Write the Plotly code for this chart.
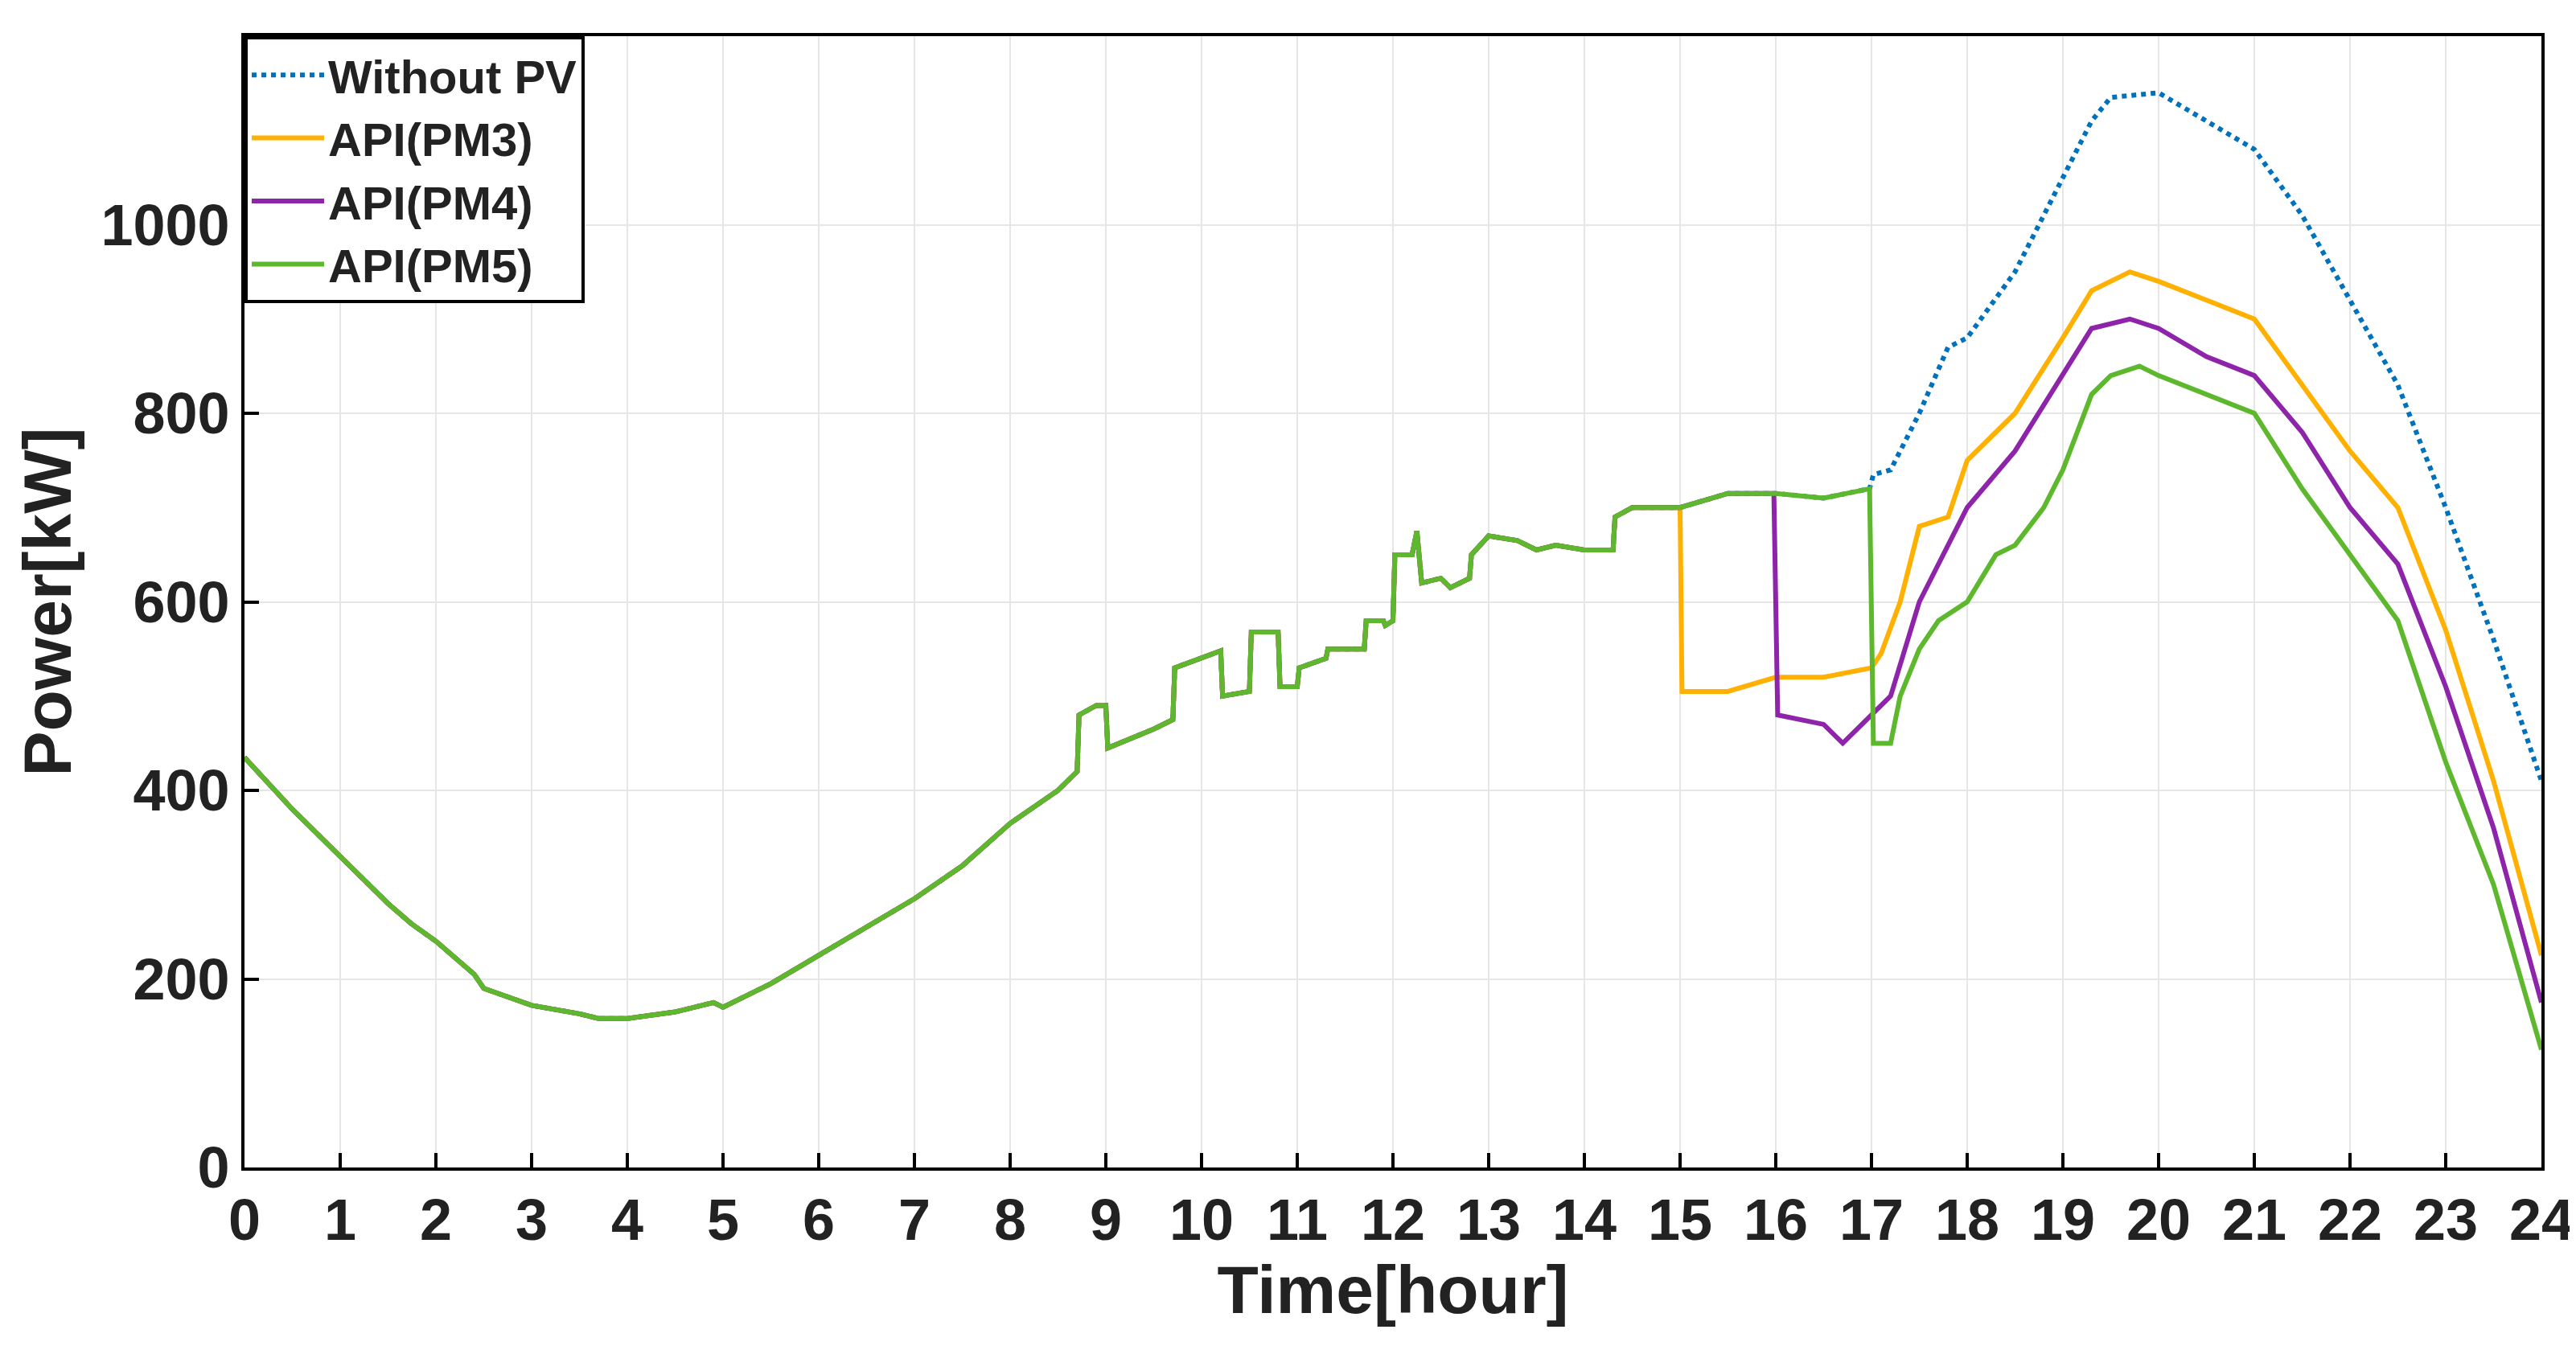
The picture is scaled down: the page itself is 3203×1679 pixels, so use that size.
import plotly.graph_objects as go

# Common part (all series identical before 15 h)
t_common = [0,0.5,1,1.5,1.75,2,2.4,2.5,3,3.5,3.7,4,4.5,4.9,5,5.5,6,6.5,7,7.5,8,8.5,8.7,8.72,8.9,9,9.02,9.5,9.7,9.72,10,10.2,10.22,10.5,10.52,10.8,10.82,11,11.02,11.3,11.32,11.7,11.72,11.9,11.92,12,12.02,12.2,12.25,12.3,12.5,12.6,12.8,12.82,13,13.3,13.5,13.7,14,14.3,14.32,14.5,15]
p_common = [435,380,330,280,258,240,205,190,172,163,158,158,165,175,170,195,225,255,285,320,365,400,420,480,490,490,445,465,475,530,540,548,500,505,568,568,510,510,530,540,550,550,580,580,575,580,650,650,675,620,625,615,625,650,670,665,655,660,655,655,690,700,700]

t_pm5_tail = [15.5,16,16.5,16.98,17.02,17.2,17.3,17.5,17.7,18,18.3,18.5,18.8,19,19.3,19.5,19.8,20,20.5,21,21.5,22,22.5,23,23.5,24]
p_pm5_tail = [715,715,710,720,450,450,500,550,580,600,650,660,700,740,820,840,850,840,820,800,720,650,580,430,300,125]

t_nopv_tail = [15.5,16,16.5,16.98,17.02,17.2,17.5,17.8,18,18.5,19,19.3,19.5,20,20.5,21,21.5,22,22.5,23,23.5,24]
p_nopv_tail = [715,715,710,720,735,740,800,870,880,950,1050,1110,1135,1140,1110,1080,1010,920,830,700,560,410]

t_pm3_tail = [15.02,15.5,16,16.5,17,17.1,17.3,17.5,17.8,18,18.5,19,19.3,19.7,20,20.5,21,21.5,22,22.5,23,23.5,24]
p_pm3_tail = [505,505,520,520,530,545,600,680,690,750,800,880,930,950,940,920,900,830,760,700,570,410,225]

t_pm4_tail = [15.5,15.98,16.02,16.5,16.7,17,17.2,17.5,18,18.5,19,19.3,19.7,20,20.5,21,21.5,22,22.5,23,23.5,24]
p_pm4_tail = [715,715,480,470,450,480,500,600,700,760,840,890,900,890,860,840,780,700,640,510,360,175]

series = [
    ("Without PV", t_common + t_nopv_tail, p_common + p_nopv_tail, "#0072BD", "dot"),
    ("API(PM3)", t_common + t_pm3_tail, p_common + p_pm3_tail, "#FFB000", "solid"),
    ("API(PM4)", t_common + t_pm4_tail, p_common + p_pm4_tail, "#8E24AA", "solid"),
    ("API(PM5)", t_common + t_pm5_tail, p_common + p_pm5_tail, "#5DB82E", "solid"),
]

fig = go.Figure()
for name, t, p, c, d in series:
    fig.add_trace(go.Scatter(x=t, y=p, name="<b>" + name + "</b>", mode="lines",
                             line=dict(color=c, width=6, dash=d)))

font = dict(family="Liberation Sans", size=70, color="#222")
axis = dict(showline=True, linecolor="black", linewidth=4, mirror=True,
            ticks="inside", ticklen=18, tickwidth=4, tickcolor="black",
            showgrid=True, gridcolor="#e6e6e6", gridwidth=2, zeroline=False,
            tickprefix="<b>", ticksuffix="</b>", tickfont=dict(size=72))
fig.update_layout(
    width=3203, height=1679, plot_bgcolor="white", paper_bgcolor="white",
    font=font, margin=dict(l=296, r=51, t=37, b=235),
    xaxis=dict(range=[0, 24], dtick=1, title=dict(text="<b>Time[hour]</b>", standoff=10), **axis),
    yaxis=dict(range=[0, 1200], dtick=200, title=dict(text="<b>Power[kW]</b>", standoff=10), **axis),
    legend=dict(x=0, y=1, xanchor="left", yanchor="top", bgcolor="white",
                bordercolor="black", borderwidth=4, font=dict(size=58),
                itemwidth=90),
)
fig.write_html("out.html")
